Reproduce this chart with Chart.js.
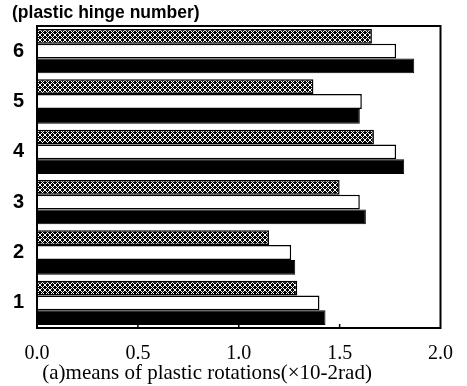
<!DOCTYPE html>
<html>
<head>
<meta charset="utf-8">
<script src="https://cdn.jsdelivr.net/npm/chart.js@4/dist/chart.umd.min.js"></script>
<style>
  html, body { margin: 0; padding: 0; background: #fff; }
  #wrap { width: 467px; height: 386px; }
</style>
</head>
<body>
<div id="wrap"><canvas id="graphRot"></canvas></div>
<script>
// hinge numbers (bottom to top)
const hinges = ['1', '2', '3', '4', '5', '6'];
// three cases per hinge
const hatchValues = [1.29, 1.15, 1.50, 1.67, 1.37, 1.66];
const whiteValues = [1.40, 1.26, 1.60, 1.78, 1.61, 1.78];
const blackValues = [1.43, 1.28, 1.63, 1.82, 1.60, 1.87];
const xTicks = [0.0, 0.5, 1.0, 1.5, 2.0];

// cross hatch fill
function makeHatch() {
  const c = document.createElement('canvas');
  c.width = 5; c.height = 5;
  const g = c.getContext('2d');
  g.fillStyle = '#000';
  g.fillRect(0, 0, 5, 5);
  g.strokeStyle = '#fff';
  g.lineWidth = 1;
  g.beginPath();
  g.moveTo(0, 0); g.lineTo(5, 5);
  g.moveTo(5, 0); g.lineTo(0, 5);
  g.stroke();
  return g.createPattern(c, 'repeat');
}

// frame around the plot plus small inward ticks at the bottom
const frameBox = {
  id: 'frameBox',
  afterDraw(chart) {
    const a = chart.chartArea;
    const g = chart.ctx;
    const xs = chart.scales.x;
    g.save();
    g.strokeStyle = '#000';
    g.lineWidth = 2;
    g.strokeRect(a.left, a.top, a.right - a.left, a.bottom - a.top);
    g.lineWidth = 1.5;
    xTicks.slice(1, -1).forEach(v => {
      const px = xs.getPixelForValue(v);
      g.beginPath();
      g.moveTo(px, a.bottom);
      g.lineTo(px, a.bottom - 4);
      g.stroke();
    });
    g.restore();
  }
};

const ctxRot = document.getElementById('graphRot');
const chartRot = new Chart(ctxRot, {
  type: 'bar',
  data: {
    labels: hinges,
    datasets: [
      {
        label: 'case A',
        data: hatchValues,
        backgroundColor: makeHatch(),
        borderColor: '#000',
        borderWidth: 1.5
      },
      {
        label: 'case B',
        data: whiteValues,
        backgroundColor: '#fff',
        borderColor: '#000',
        borderWidth: 1.5
      },
      {
        label: 'case C',
        data: blackValues,
        backgroundColor: '#000',
        borderColor: '#000',
        borderWidth: 1
      }
    ]
  },
  options: {
    indexAxis: 'y',
    responsive: true,
    maintainAspectRatio: false,
    animation: false,
    layout: { padding: { left: 12, right: 19, top: 1, bottom: 0 } },
    datasets: {
      bar: { categoryPercentage: 0.88, barPercentage: 1.0 }
    },
    scales: {
      x: {
        min: 0,
        max: 2,
        grid: { display: false, drawTicks: false },
        border: { display: false },
        afterBuildTicks: scale => {
          scale.ticks = xTicks.map(v => ({ value: v }));
        },
        afterFit: scale => { scale.height = 58; },
        ticks: {
          padding: 14,
          color: '#000',
          font: { family: '"Liberation Serif", serif', size: 20 },
          callback: v => Number(v).toFixed(1)
        },
        title: {
          display: true,
          align: 'start',
          text: ' (a)means of plastic rotations(\u00d710-2rad)',
          color: '#000',
          padding: { top: 0, bottom: 0 },
          font: { family: '"Liberation Serif", serif', size: 21 }
        }
      },
      y: {
        reverse: true,
        grid: { display: false, drawTicks: false },
        border: { display: false },
        afterFit: scale => { scale.width = 25; },
        ticks: {
          padding: 13,
          color: '#000',
          font: { family: '"Liberation Sans", sans-serif', size: 20, weight: 'bold' }
        }
      }
    },
    plugins: {
      legend: { display: false },
      tooltip: { enabled: false },
      title: {
        display: true,
        text: '(plastic hinge number)',
        align: 'start',
        color: '#000',
        padding: { top: 2, bottom: 2 },
        font: { family: '"Liberation Sans", sans-serif', size: 17.5, weight: 'bold' }
      }
    }
  },
  plugins: [frameBox]
});
</script>
</body>
</html>
